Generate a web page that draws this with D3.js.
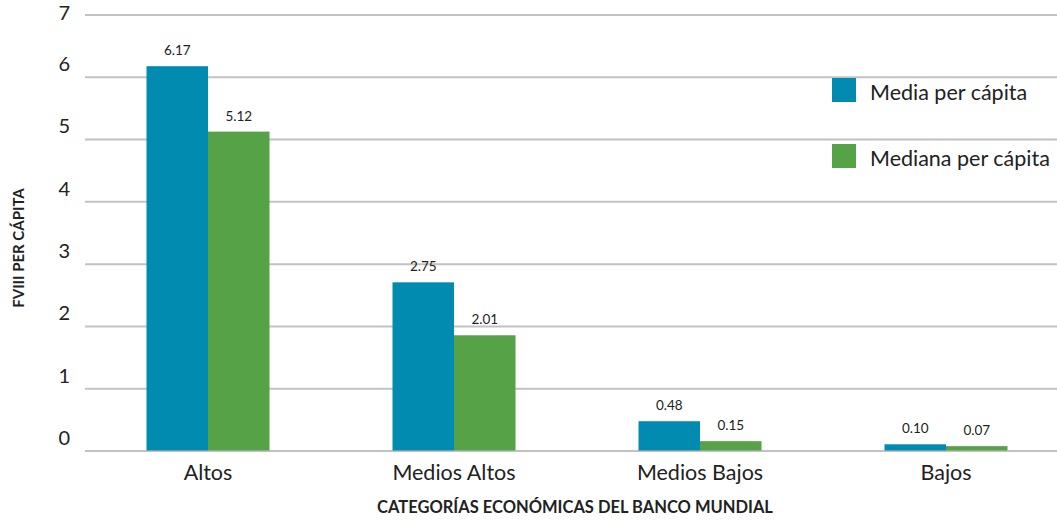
<!DOCTYPE html>
<html>
<head>
<meta charset="utf-8">
<script src="https://cdn.jsdelivr.net/npm/d3@7"></script>
<style>
  body { margin: 0; background: #fff; }
  text { font-family: Lato, "Open Sans", sans-serif; fill: #222; }
</style>
</head>
<body>
<div id="chart"></div>
<script>
// Chart data
var categories = ["Altos", "Medios Altos", "Medios Bajos", "Bajos"];
var seriesNames = ["Media per cápita", "Mediana per cápita"];
// bar heights as drawn in the picture
var mediaValues = [6.17, 2.70, 0.47, 0.10];
var medianaValues = [5.12, 1.85, 0.15, 0.07];
// printed value labels
var mediaLabels = ["6.17", "2.75", "0.48", "0.10"];
var medianaLabels = ["5.12", "2.01", "0.15", "0.07"];
var yTicks = [0, 1, 2, 3, 4, 5, 6, 7];

var colors = ["#028bb0", "#55a247"];

var svgWidth = 1057;
var svgHeight = 520;

var svg = d3.select("#chart")
  .append("svg")
  .attr("width", svgWidth)
  .attr("height", svgHeight);

// Scales
var yScale = d3.scaleLinear()
  .domain([0, 7])
  .range([450.5, 14.5]);

var x0 = d3.scaleBand()
  .domain(categories)
  .range([85, 1069])
  .paddingInner(0.5)
  .paddingOuter(0.25);

var x1 = d3.scaleBand()
  .domain(seriesNames)
  .range([0, x0.bandwidth()]);

// Gridlines + tick labels
var yAxis = d3.axisLeft(yScale)
  .tickValues(yTicks)
  .tickFormat(d3.format("d"))
  .tickSize(-(svgWidth - 85))
  .tickPadding(15);

var yAxisG = svg.append("g")
  .attr("transform", "translate(85,0)")
  .call(yAxis);

yAxisG.select(".domain").remove();
yAxisG.selectAll(".tick line")
  .attr("stroke", "#c2c2c2")
  .attr("stroke-width", 2);
// labels sit above their gridline; the top one is squeezed to stay in view
yAxisG.selectAll(".tick text")
  .attr("font-size", "20px")
  .attr("fill", "#222")
  .attr("font-family", "Lato, sans-serif")
  .attr("y", d => Math.max(-12.5, 13 - yScale(d)));

// Build rows for bars
var rows = categories.map(function(c, i) {
  return {
    category: c,
    bars: [
      { name: seriesNames[0], value: mediaValues[i], label: mediaLabels[i], color: colors[0] },
      { name: seriesNames[1], value: medianaValues[i], label: medianaLabels[i], color: colors[1] }
    ]
  };
});

var groups = svg.selectAll(".cat")
  .data(rows)
  .enter()
  .append("g")
  .attr("class", "cat")
  .attr("transform", d => `translate(${x0(d.category)},0)`);

groups.selectAll("rect")
  .data(d => d.bars)
  .enter()
  .append("rect")
  .attr("x", d => x1(d.name))
  .attr("y", d => yScale(d.value))
  .attr("width", x1.bandwidth())
  .attr("height", d => yScale(0) - yScale(d.value))
  .attr("fill", d => d.color);

// value labels
groups.selectAll(".val")
  .data(d => d.bars)
  .enter()
  .append("text")
  .attr("class", "val")
  .attr("x", d => x1(d.name) + x1.bandwidth() / 2)
  .attr("y", d => yScale(d.value) - 11)
  .attr("text-anchor", "middle")
  .attr("font-size", "13.5px")
  .text(d => d.label);

// category labels
var xAxis = d3.axisBottom(x0).tickSize(0).tickPadding(14);
var xAxisG = svg.append("g")
  .attr("transform", `translate(0,${yScale(0)})`)
  .call(xAxis);
xAxisG.select(".domain").remove();
xAxisG.selectAll(".tick text")
  .attr("font-size", "21.5px")
  .attr("fill", "#222")
  .attr("font-family", "Lato, sans-serif");

// Axis titles
svg.append("text")
  .attr("transform", "translate(24,248) rotate(-90)")
  .attr("text-anchor", "middle")
  .attr("font-size", "15px")
  .attr("font-weight", "bold")
  .text("FVIII PER CÁPITA");

svg.append("text")
  .attr("x", 575)
  .attr("y", 513)
  .attr("text-anchor", "middle")
  .attr("font-size", "16.5px")
  .attr("font-weight", "bold")
  .text("CATEGORÍAS ECONÓMICAS DEL BANCO MUNDIAL");

// Legend
var legend = svg.append("g")
  .attr("transform", "translate(832,78)");

var legendItems = legend.selectAll(".leg")
  .data(seriesNames)
  .enter()
  .append("g")
  .attr("class", "leg")
  .attr("transform", (d, i) => `translate(0,${i * 66})`);

legendItems.append("rect")
  .attr("width", 24)
  .attr("height", 24)
  .attr("fill", (d, i) => colors[i]);

legendItems.append("text")
  .attr("x", 38)
  .attr("y", 14)
  .attr("dy", "0.35em")
  .attr("font-size", "21.5px")
  .text(d => d);
</script>
</body>
</html>
